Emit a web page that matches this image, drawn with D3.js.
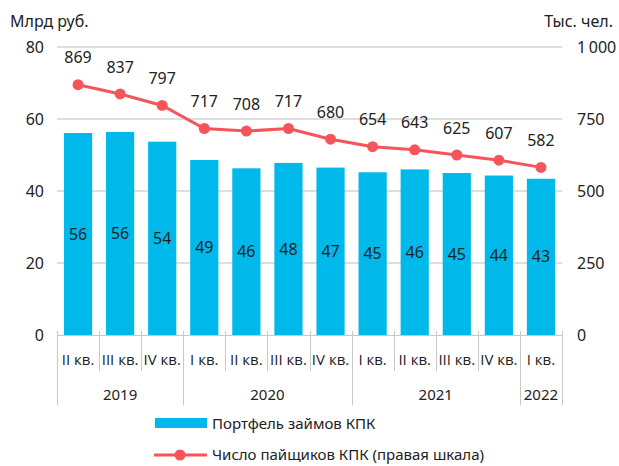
<!DOCTYPE html>
<html>
<head>
<meta charset="utf-8">
<script src="https://cdn.jsdelivr.net/npm/d3@7"></script>
<style>
  body { margin: 0; background: #fff; }
  svg { font-family: "Noto Sans", sans-serif; }
  .quarter { font-family: "Open Sans", sans-serif; }
</style>
</head>
<body>
<svg id="chart" width="619" height="466"></svg>
<script>
const quarters = ['II кв.', 'III кв.', 'IV кв.', 'I кв.', 'II кв.', 'III кв.', 'IV кв.', 'I кв.', 'II кв.', 'III кв.', 'IV кв.', 'I кв.'];
const years = [
    { label: '2019', from: 0, to: 3 },
    { label: '2020', from: 3, to: 7 },
    { label: '2021', from: 7, to: 11 },
    { label: '2022', from: 11, to: 12 }
];
const loans = [56.1, 56.4, 53.7, 48.6, 46.3, 47.8, 46.5, 45.2, 46.0, 45.0, 44.3, 43.4];
const members = [869, 837, 797, 717, 708, 717, 680, 654, 643, 625, 607, 582];
const leftTicks = [0, 20, 40, 60, 80];
const rightTicks = [0, 250, 500, 750, 1000];

const blue = '#00b9eb';
const red = '#f5545a';
const textColor = '#222';

const svg = d3.select('#chart');
const plotLeft = 57, plotRight = 562, plotTop = 47, plotBottom = 335;

const x = d3.scaleBand()
    .domain(d3.range(quarters.length))
    .range([plotLeft, plotRight])
    .paddingInner(0.33)
    .paddingOuter(0.165);
const yL = d3.scaleLinear().domain([0, 80]).range([plotBottom, plotTop]);
const yR = d3.scaleLinear().domain([0, 1000]).range([plotBottom, plotTop]);
const step = x.step();
const xEdge = i => plotLeft + i * (plotRight - plotLeft) / quarters.length;

// gridlines
svg.append('g')
    .selectAll('line')
    .data(leftTicks.filter(d => d > 0))
    .join('line')
    .attr('x1', plotLeft).attr('x2', plotRight)
    .attr('y1', d => yL(d)).attr('y2', d => yL(d))
    .attr('stroke', '#bdbdbd').attr('stroke-width', 1);

// left axis labels
svg.append('g')
    .selectAll('text')
    .data(leftTicks)
    .join('text')
    .attr('x', 44).attr('y', d => yL(d))
    .attr('dy', '0.35em')
    .attr('text-anchor', 'end')
    .attr('font-size', 16).attr('fill', textColor)
    .text(d => d);

// right axis labels
svg.append('g')
    .selectAll('text')
    .data(rightTicks)
    .join('text')
    .attr('x', 577).attr('y', d => yR(d))
    .attr('dy', '0.35em')
    .attr('font-size', 16).attr('fill', textColor)
    .text(d => d3.format(',')(d).replace(',', '\u2009'));

svg.append('text')
    .attr('x', 10).attr('y', 27)
    .attr('font-size', 16).attr('fill', textColor)
    .text('Млрд руб.');
svg.append('text')
    .attr('x', 613).attr('y', 27)
    .attr('text-anchor', 'end')
    .attr('font-size', 16).attr('fill', textColor)
    .text('Тыс. чел.');

// bars
svg.append('g')
    .selectAll('rect')
    .data(loans)
    .join('rect')
    .attr('x', (d, i) => x(i))
    .attr('width', x.bandwidth())
    .attr('y', d => yL(d))
    .attr('height', d => plotBottom - yL(d))
    .attr('fill', blue);

svg.append('g')
    .selectAll('text')
    .data(loans)
    .join('text')
    .attr('x', (d, i) => x(i) + x.bandwidth() / 2)
    .attr('y', d => (yL(d) + plotBottom) / 2)
    .attr('dy', '0.35em')
    .attr('text-anchor', 'middle')
    .attr('font-size', 16).attr('fill', textColor)
    .text(d => Math.round(d));

// baseline + category separators
svg.append('line')
    .attr('x1', plotLeft).attr('x2', plotRight)
    .attr('y1', plotBottom + 0.5).attr('y2', plotBottom + 0.5)
    .attr('stroke', '#c8c8c8');

const yearEdges = new Set(years.flatMap(d => [d.from, d.to]));
svg.append('g')
    .selectAll('line')
    .data(d3.range(quarters.length + 1))
    .join('line')
    .attr('x1', i => Math.round(xEdge(i)) + 0.5).attr('x2', i => Math.round(xEdge(i)) + 0.5)
    .attr('y1', plotBottom - 4)
    .attr('y2', i => yearEdges.has(i) ? 405 : 371)
    .attr('stroke', '#c8c8c8');

svg.append('g')
    .selectAll('text')
    .data(quarters)
    .join('text')
    .attr('class', 'quarter')
    .attr('x', (d, i) => xEdge(i) + step / 2)
    .attr('y', 360)
    .attr('dy', '0.35em')
    .attr('text-anchor', 'middle')
    .attr('font-size', 15).attr('fill', textColor)
    .text(d => d);

svg.append('g')
    .selectAll('text')
    .data(years)
    .join('text')
    .attr('x', d => (xEdge(d.from) + xEdge(d.to)) / 2)
    .attr('y', 395)
    .attr('dy', '0.35em')
    .attr('text-anchor', 'middle')
    .attr('font-size', 15).attr('fill', textColor)
    .text(d => d.label);

// line
const cx = i => x(i) + x.bandwidth() / 2;
svg.append('path')
    .datum(members)
    .attr('fill', 'none')
    .attr('stroke', red)
    .attr('stroke-width', 3)
    .attr('d', d3.line().x((d, i) => cx(i)).y(d => yR(d)));

svg.append('g')
    .selectAll('circle')
    .data(members)
    .join('circle')
    .attr('cx', (d, i) => cx(i))
    .attr('cy', d => yR(d))
    .attr('r', 5.5)
    .attr('fill', red);

svg.append('g')
    .selectAll('text')
    .data(members)
    .join('text')
    .attr('x', (d, i) => cx(i))
    .attr('y', d => yR(d) - 27)
    .attr('dy', '0.35em')
    .attr('text-anchor', 'middle')
    .attr('font-size', 16).attr('fill', textColor)
    .text(d => d);

// legend
svg.append('rect')
    .attr('x', 155).attr('y', 418)
    .attr('width', 52).attr('height', 10)
    .attr('fill', blue);
svg.append('text')
    .attr('x', 212).attr('y', 424)
    .attr('dy', '0.35em')
    .attr('font-size', 15).attr('fill', textColor)
    .text('Портфель займов КПК');

svg.append('line')
    .attr('x1', 154).attr('x2', 207)
    .attr('y1', 455).attr('y2', 455)
    .attr('stroke', red).attr('stroke-width', 3);
svg.append('circle')
    .attr('cx', 180).attr('cy', 455).attr('r', 5.5)
    .attr('fill', red);
svg.append('text')
    .attr('x', 212).attr('y', 455)
    .attr('dy', '0.35em')
    .attr('font-size', 15).attr('fill', textColor)
    .text('Число пайщиков КПК (правая шкала)');
</script>
</body>
</html>
